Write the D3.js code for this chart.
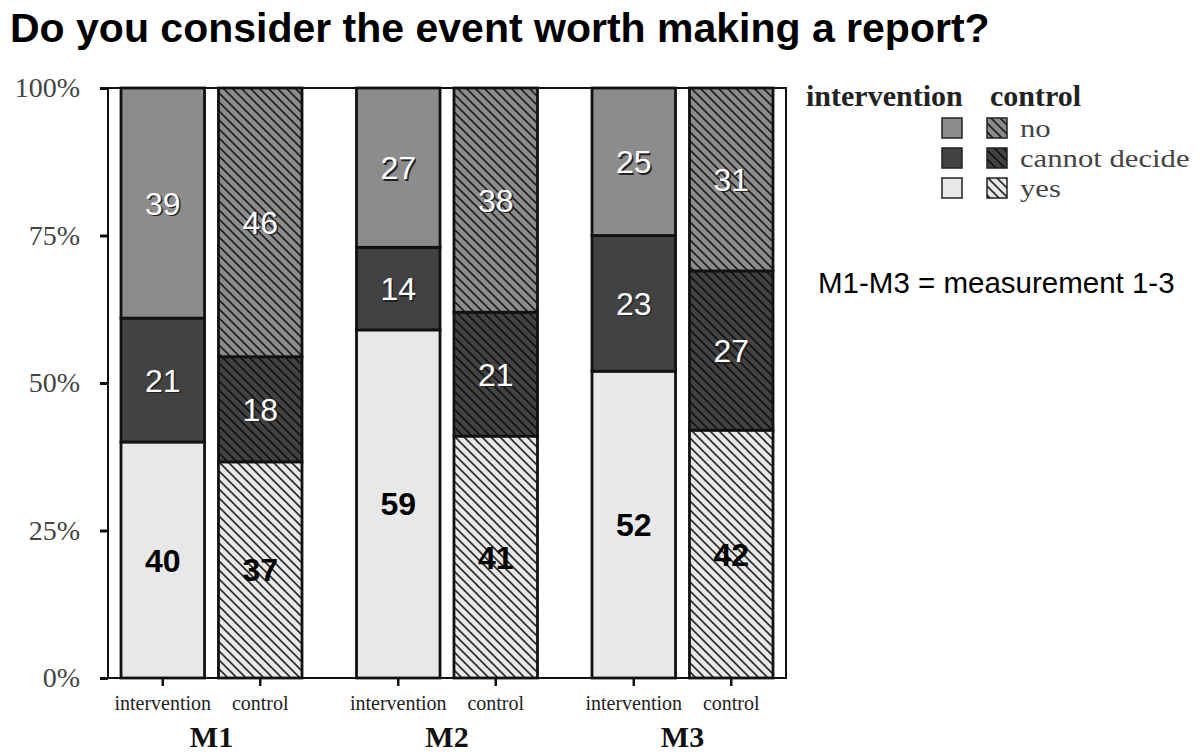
<!DOCTYPE html>
<html>
<head>
<meta charset="utf-8">
<script src="https://cdn.jsdelivr.net/npm/d3@7"></script>
<style>
  html, body { margin: 0; padding: 0; background: #fff; }
  svg { display: block; }
</style>
</head>
<body>
<svg id="chart" width="1200" height="752"></svg>
<script>
// ---- data ----
const titleText = "Do you consider the event worth making a report?";
const groups = ["M1", "M2", "M3"];
const arms = ["intervention", "control"];
const responseKeys = ["yes", "cannot", "no"];
const responseLabels = ["yes", "cannot decide", "no"];
// order: M1 int, M1 ctrl, M2 int, M2 ctrl, M3 int, M3 ctrl
const yesValues = [40, 37, 59, 41, 52, 42];
const cannotValues = [21, 18, 14, 21, 23, 27];
const noValues = [39, 46, 27, 38, 25, 31];
const yTickValues = [0, 0.25, 0.5, 0.75, 1];
const yTickLabels = ["0%", "25%", "50%", "75%", "100%"];
const noteText = "M1-M3 = measurement 1-3";

const fills = { no: "#8c8c8c", cannot: "#424242", yes: "#e8e8e8" };
const hatchStroke = { no: "#1e1e1e", cannot: "#111", yes: "#2a2a2a" };

const rows = [];
groups.forEach((g, gi) => arms.forEach((a, ai) => {
  const i = gi * 2 + ai;
  rows.push({ group: g, arm: a, yes: yesValues[i], cannot: cannotValues[i], no: noValues[i] });
}));

const svg = d3.select("#chart");

// ---- patterns ----
const defs = svg.append("defs");
responseKeys.forEach(k => {
  const p = defs.append("pattern")
    .attr("id", "hatch-" + k)
    .attr("patternUnits", "userSpaceOnUse")
    .attr("width", 9).attr("height", 9);
  p.append("rect").attr("width", 9).attr("height", 9).attr("fill", fills[k]);
  p.append("path")
    .attr("d", "M-1,-1 L10,10 M-1,8 L1,10 M8,-1 L10,1")
    .attr("stroke", hatchStroke[k]).attr("stroke-width", 1.6).attr("fill", "none");
});

// ---- scales ----
const plot = { left: 108, right: 786, top: 88, bottom: 678 };
const x0 = d3.scaleBand().domain(groups).range([121, 773]).paddingInner(0.2314).paddingOuter(0);
const x1 = d3.scaleBand().domain(arms).range([0, x0.bandwidth()]).paddingInner(0.143).paddingOuter(0);
const y = d3.scaleLinear().domain([0, 1]).range([plot.bottom, plot.top]);

const stacked = d3.stack().keys(responseKeys).offset(d3.stackOffsetExpand)(rows);

// title
svg.append("text")
  .attr("x", 10).attr("y", 42)
  .attr("font-family", "Liberation Sans, Arial, sans-serif")
  .attr("font-weight", "bold").attr("font-size", 41)
  .attr("fill", "#000")
  .text(titleText);

// frame
svg.append("rect")
  .attr("x", plot.left).attr("y", plot.top)
  .attr("width", plot.right - plot.left).attr("height", plot.bottom - plot.top)
  .attr("fill", "none").attr("stroke", "#111").attr("stroke-width", 2);

// bars
const layer = svg.append("g");
stacked.forEach(series => {
  const key = series.key;
  series.forEach(d => {
    const r = d.data;
    const bx = x0(r.group) + x1(r.arm);
    const fill = r.arm === "control" ? "url(#hatch-" + key + ")" : fills[key];
    layer.append("rect")
      .attr("x", bx).attr("y", y(d[1]))
      .attr("width", x1.bandwidth()).attr("height", y(d[0]) - y(d[1]))
      .attr("fill", fill)
      .attr("stroke", "#111").attr("stroke-width", 2.8);
  });
});

// value labels
stacked.forEach(series => {
  const key = series.key;
  series.forEach(d => {
    const r = d.data;
    const cx = x0(r.group) + x1(r.arm) + x1.bandwidth() / 2;
    const cy = (y(d[0]) + y(d[1])) / 2;
    const val = r[key];
    if (key === "yes") {
      svg.append("text")
        .attr("x", cx).attr("y", cy).attr("dy", "0.36em")
        .attr("text-anchor", "middle")
        .attr("font-family", "Liberation Sans, Arial, sans-serif")
        .attr("font-weight", "bold").attr("font-size", 32)
        .attr("fill", "#000").text(val);
    } else {
      svg.append("text")
        .attr("x", cx + 1.5).attr("y", cy + 1.5).attr("dy", "0.36em")
        .attr("text-anchor", "middle")
        .attr("font-family", "Liberation Sans, Arial, sans-serif")
        .attr("font-size", 32)
        .attr("fill", "#222").text(val);
      svg.append("text")
        .attr("x", cx).attr("y", cy).attr("dy", "0.36em")
        .attr("text-anchor", "middle")
        .attr("font-family", "Liberation Sans, Arial, sans-serif")
        .attr("font-size", 32)
        .attr("fill", "#fff").text(val);
    }
  });
});

// y axis
const yAxis = d3.axisLeft(y).tickValues(yTickValues)
  .tickFormat((d, i) => yTickLabels[i]).tickSize(8).tickPadding(20);
const gy = svg.append("g").attr("transform", `translate(${plot.left},0)`).call(yAxis);
gy.select(".domain").remove();
gy.selectAll(".tick line").attr("stroke", "#111").attr("stroke-width", 3);
gy.selectAll(".tick text")
  .attr("font-family", "Liberation Serif, Times New Roman, serif")
  .attr("font-size", 28).attr("fill", "#444");

// x axis: arms within groups
groups.forEach(g => {
  const ax = d3.axisBottom(x1).tickSize(8).tickPadding(10);
  const gx = svg.append("g").attr("transform", `translate(${x0(g)},${plot.bottom})`).call(ax);
  gx.select(".domain").remove();
  gx.selectAll(".tick line").attr("stroke", "#111").attr("stroke-width", 2.5);
  gx.selectAll(".tick text")
    .attr("font-family", "Liberation Serif, Times New Roman, serif")
    .attr("font-size", 20).attr("fill", "#222");
});
// group labels
const gAxis = d3.axisBottom(x0).tickSize(0).tickPadding(48);
const gg = svg.append("g").attr("transform", `translate(0,${plot.bottom})`).call(gAxis);
gg.select(".domain").remove();
gg.selectAll(".tick text")
  .attr("font-family", "Liberation Serif, Times New Roman, serif")
  .attr("font-weight", "bold").attr("font-size", 30).attr("fill", "#111");

// legend
const lg = svg.append("g");
lg.append("text").attr("x", 806).attr("y", 106)
  .attr("font-family", "Liberation Serif, Times New Roman, serif")
  .attr("font-weight", "bold").attr("font-size", 30).attr("fill", "#222")
  .text("intervention");
lg.append("text").attr("x", 990).attr("y", 106)
  .attr("font-family", "Liberation Serif, Times New Roman, serif")
  .attr("font-weight", "bold").attr("font-size", 30).attr("fill", "#222")
  .text("control");
const legendOrder = ["no", "cannot", "yes"];
legendOrder.forEach((k, i) => {
  const cy = 128 + i * 30;
  lg.append("rect").attr("x", 942).attr("y", cy - 10).attr("width", 20).attr("height", 20)
    .attr("fill", fills[k]).attr("stroke", "#222").attr("stroke-width", 1.5);
  lg.append("rect").attr("x", 987).attr("y", cy - 10).attr("width", 20).attr("height", 20)
    .attr("fill", "url(#hatch-" + k + ")").attr("stroke", "#222").attr("stroke-width", 1.5);
  const t = lg.append("text").attr("x", 1020).attr("y", cy).attr("dy", "0.33em")
    .attr("font-family", "Liberation Serif, Times New Roman, serif")
    .attr("font-size", 26)
    .attr("fill", "#444")
    .text(responseLabels[responseKeys.indexOf(k)]);
  const w = t.node().getComputedTextLength();
  t.attr("textLength", w * 1.18).attr("lengthAdjust", "spacingAndGlyphs");
});

// note
svg.append("text").attr("x", 818).attr("y", 293)
  .attr("font-family", "Liberation Sans, Arial, sans-serif")
  .attr("font-size", 29.5).attr("fill", "#000")
  .text(noteText);
</script>
</body>
</html>
